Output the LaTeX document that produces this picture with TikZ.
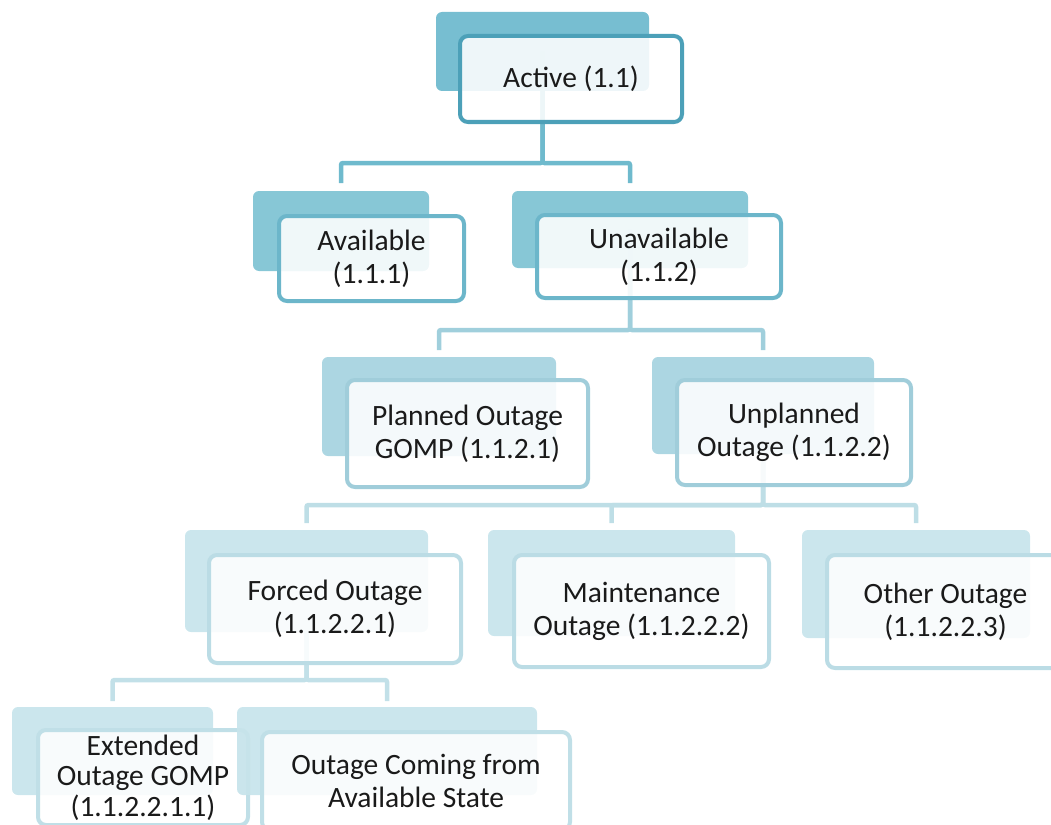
\documentclass[tikz,border=0pt]{standalone}
\usepackage{fontspec}
\setmainfont{Carlito}
\usetikzlibrary{backgrounds}
\definecolor{bk0}{HTML}{6BB9CD}
\definecolor{bk1}{HTML}{7DC2D3}
\definecolor{bk2}{HTML}{A5D3E0}
\definecolor{bk3}{HTML}{C7E4EB}
\definecolor{bk4}{HTML}{C7E4EB}
\definecolor{fr0}{HTML}{4CA0B8}
\definecolor{fr1}{HTML}{6CB6CA}
\definecolor{fr2}{HTML}{A0CDDA}
\definecolor{fr3}{HTML}{BBDCE5}
\definecolor{fr4}{HTML}{C0DFE7}
\definecolor{cn0}{HTML}{6FBACD}
\definecolor{cn1}{HTML}{A0CFDC}
\definecolor{cn2}{HTML}{BEDEE6}
\definecolor{cn3}{HTML}{C2E0E8}
\definecolor{txt}{HTML}{1A1A1A}
\tikzset{
  backbase/.style={rectangle, rounded corners=6pt, inner sep=0pt, outer sep=0pt, fill opacity=0.92, draw=none},
  back0/.style={backbase, fill=bk0},
  back1/.style={backbase, fill=bk1},
  back2/.style={backbase, fill=bk2},
  back3/.style={backbase, fill=bk3},
  back4/.style={backbase, fill=bk4},
  frontbase/.style={rectangle, rounded corners=8pt, inner sep=0pt, outer sep=0pt, line width=4pt,
    fill=white, fill opacity=0.88, text opacity=1, draw opacity=1, text=txt, align=center,
    font=\fontsize{29.5}{33}\selectfont},
  front0/.style={frontbase, draw=fr0},
  front1/.style={frontbase, draw=fr1},
  front2/.style={frontbase, draw=fr2},
  front3/.style={frontbase, draw=fr3},
  front4/.style={frontbase, draw=fr4},
  tight/.style={font=\fontsize{29.5}{30.5}\selectfont},
  connbase/.style={line width=4.5pt, rounded corners=2pt},
  conn0/.style={connbase, draw=cn0, shorten >=8pt},
  conn1/.style={connbase, draw=cn1, shorten >=7pt},
  conn2/.style={connbase, draw=cn2, shorten >=7pt},
  conn3/.style={connbase, draw=cn3, shorten >=6pt},
}
\newcommand\backbox[6]{\node[back#2, minimum width={#5-#3}, minimum height={#6-#4}] (b-#1) at ({(#3+#5)/2},{(#4+#6)/2}) {};}
\newcommand\frontbox[7]{\node[front#2, minimum width={#5-#3}, minimum height={#6-#4}] (#1) at ({(#3+#5)/2},{(#4+#6)/2}) {#7};}
\begin{document}
\begin{tikzpicture}[x=1pt,y=-1pt]
\useasboundingbox (0,0) rectangle (1051,824);
\clip (0,0) rectangle (1051,824);

% level 0
\backbox{act}{0}{436}{12}{649}{91}
\frontbox{act}{0}{460}{36}{682}{122}{Active (1.1)}
% level 1
\backbox{avail}{1}{253}{191}{429}{271}
\frontbox{avail}{1}{279}{216}{464}{301}{Available\\(1.1.1)}
\backbox{unav}{1}{512}{191}{748}{268}
\frontbox{unav}{1}{537}{215}{781}{298}{Unavailable\\(1.1.2)}
% level 2
\backbox{plan}{2}{322}{357}{556}{456}
\frontbox{plan}{2}{347}{380}{588}{487}{Planned Outage\\GOMP (1.1.2.1)}
\backbox{unpl}{2}{652}{357}{874}{454}
\frontbox{unpl}{2}{677}{380}{911}{485}{Unplanned\\Outage (1.1.2.2)}
% level 3
\backbox{forc}{3}{185}{530}{428}{632}
\frontbox{forc}{3}{209}{555}{461}{663}{Forced Outage\\(1.1.2.2.1)}
\backbox{main}{3}{488}{530}{735}{636}
\frontbox{main}{3}{514}{555}{769}{667}{Maintenance\\Outage (1.1.2.2.2)}
\backbox{other}{3}{802}{530}{1030}{638}
\frontbox{other}{3}{827}{555}{1064}{668}{Other Outage\\(1.1.2.2.3)}
% level 4
\backbox{ext}{4}{12}{707}{213}{795}
\node[front4, tight, minimum width=210, minimum height=95] (ext) at (143,777.5) {Extended\\Outage GOMP\\(1.1.2.2.1.1)};
\backbox{ocom}{4}{237}{707}{537}{795}
\frontbox{ocom}{4}{262}{732}{570}{830}{Outage Coming from\\Available State}

\begin{scope}[on background layer]
\coordinate (bus0) at (0,163);
\coordinate (bus1) at (0,330);
\coordinate (bus2) at (0,505);
\coordinate (bus3) at (0,680);
\draw[conn0] (b-act.center) -- (b-act.center |- bus0) -| (b-avail.north);
\draw[conn0] (b-act.center) -- (b-act.center |- bus0) -| (b-unav.north);
\draw[conn1] (b-unav.center) -- (b-unav.center |- bus1) -| (b-plan.north);
\draw[conn1] (b-unav.center) -- (b-unav.center |- bus1) -| (b-unpl.north);
\draw[conn2] (b-unpl.center) -- (b-unpl.center |- bus2) -| (b-forc.north);
\draw[conn2] (b-unpl.center) -- (b-unpl.center |- bus2) -| (b-main.north);
\draw[conn2] (b-unpl.center) -- (b-unpl.center |- bus2) -| (b-other.north);
\draw[conn3] (b-forc.center) -- (b-forc.center |- bus3) -| (b-ext.north);
\draw[conn3] (b-forc.center) -- (b-forc.center |- bus3) -| (b-ocom.north);
\end{scope}
\end{tikzpicture}
\end{document}
